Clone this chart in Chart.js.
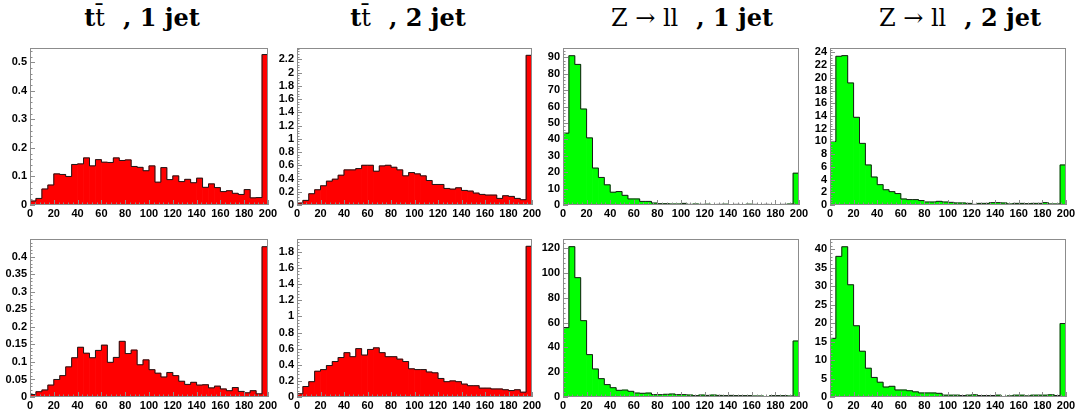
<!DOCTYPE html>
<html>
<head>
<meta charset="utf-8">
<script src="https://cdn.jsdelivr.net/npm/chart.js@4.4.0/dist/chart.umd.min.js"></script>
<style>
  body { margin: 0; background: #fff; width: 1078px; height: 410px; position: relative; overflow: hidden; }
  canvas { position: absolute; }
  .title { position: absolute; top: 6px; font-family: "DejaVu Serif", serif; font-size: 24px; line-height: 24px;
           white-space: pre; transform: translateX(-50%); color: #000; }
  .title b { font-weight: bold; }
  .title .gap { display: inline-block; width: 18px; }
</style>
</head>
<body>
<div class="title" style="left:142px"><b>t</b>t̄<span class="gap"></span><b>, 1 jet</b></div>
<div class="title" style="left:408px"><b>t</b>t̄<span class="gap"></span><b>, 2 jet</b></div>
<div class="title" style="left:692px">Z → ll<span class="gap"></span><b>, 1 jet</b></div>
<div class="title" style="left:960px">Z → ll<span class="gap"></span><b>, 2 jet</b></div>

<script>
// ─── Données ─────────────────────────────
// bords inférieurs des 40 bins (largeur 5)
const binLow = [0, 5, 10, 15, 20, 25, 30, 35, 40, 45, 50, 55, 60, 65, 70, 75, 80, 85, 90, 95,
  100, 105, 110, 115, 120, 125, 130, 135, 140, 145, 150, 155, 160, 165, 170, 175, 180, 185, 190, 195];
const binWidth = 5;
const xTicks = [0, 20, 40, 60, 80, 100, 120, 140, 160, 180, 200];

const tt1Top = [0.014, 0.023, 0.056, 0.070, 0.109, 0.107, 0.100, 0.142, 0.144, 0.165, 0.137, 0.159, 0.150, 0.149,
  0.165, 0.156, 0.158, 0.135, 0.132, 0.120, 0.137, 0.080, 0.131, 0.089, 0.102, 0.082, 0.090, 0.078, 0.094, 0.062,
  0.074, 0.061, 0.047, 0.050, 0.041, 0.037, 0.054, 0.025, 0.026, 0.527];
const tt2Top = [0.03, 0.07, 0.17, 0.23, 0.29, 0.36, 0.39, 0.45, 0.53, 0.53, 0.55, 0.60, 0.60, 0.51, 0.59, 0.60,
  0.57, 0.53, 0.44, 0.49, 0.47, 0.44, 0.37, 0.31, 0.31, 0.25, 0.24, 0.26, 0.22, 0.21, 0.18, 0.16, 0.15, 0.15,
  0.10, 0.14, 0.13, 0.10, 0.08, 2.26];
const zll1Top = [43.8, 91, 85.7, 58.5, 40.9, 22.5, 16.8, 12.3, 7.8, 8.2, 5.9, 3.7, 3.7, 2.2, 2.2, 1.2, 0.8, 0.8,
  0.6, 0.6, 1.0, 0.4, 0.6, 0.4, 0.5, 0.3, 0.4, 0.5, 0.3, 0.4, 0.3, 0.5, 0.4, 0.3, 0.4, 0.3, 0.3, 0.4, 0.6, 19.4];
const zll2Top = [10.0, 23.4, 23.5, 19.2, 13.8, 9.7, 6.3, 4.4, 3.2, 2.4, 2.1, 1.8, 0.95, 0.85, 0.85, 0.7, 0.47,
  0.47, 0.58, 0.47, 0.42, 0.32, 0.32, 0.26, 0.1, 0.26, 0.26, 0.37, 0.37, 0.32, 0.16, 0.26, 0.26, 0.21, 0.26,
  0.26, 0.37, 0.16, 0.16, 6.3];

const tt1Bot = [0.007, 0.015, 0.020, 0.034, 0.050, 0.061, 0.086, 0.112, 0.142, 0.125, 0.112, 0.133, 0.148, 0.099,
  0.113, 0.159, 0.124, 0.134, 0.092, 0.106, 0.078, 0.068, 0.057, 0.070, 0.061, 0.045, 0.036, 0.042, 0.034, 0.035,
  0.026, 0.031, 0.023, 0.018, 0.027, 0.016, 0.012, 0.018, 0.009, 0.429];
const tt2Bot = [0.04, 0.13, 0.19, 0.32, 0.34, 0.39, 0.44, 0.49, 0.55, 0.50, 0.60, 0.52, 0.59, 0.61, 0.55, 0.50,
  0.50, 0.47, 0.44, 0.35, 0.34, 0.34, 0.31, 0.30, 0.23, 0.19, 0.20, 0.19, 0.16, 0.14, 0.14, 0.11, 0.11, 0.10,
  0.10, 0.09, 0.08, 0.09, 0.06, 1.87];
const zll1Bot = [56, 121.3, 96.3, 61.6, 34.2, 22.6, 14.8, 10, 7.5, 5.4, 5.6, 4.6, 3.2, 3.0, 3.2, 1.9, 1.9, 2.2,
  2.4, 1.9, 1.9, 1.6, 1.1, 1.6, 1.3, 1.6, 1.3, 1.1, 1.3, 1.1, 1.1, 1.1, 0.8, 0.8, 0.3, 1.1, 1.1, 1.1, 0.8, 45.2];
const zll2Bot = [15.9, 38.1, 40.7, 30.4, 19.3, 12.4, 7.8, 5.3, 4.0, 2.7, 2.9, 1.9, 1.9, 1.7, 1.4, 1.1, 1.1, 1.1,
  1.0, 0.5, 0.5, 0.5, 0.4, 0.5, 0.6, 0.4, 0.4, 0.4, 0.5, 0, 0.3, 0.5, 0.5, 0.3, 0.5, 0.5, 0.5, 0.6, 0.4, 19.9];

// labels de l'axe y
const yTicksTt1Top  = [0, 0.1, 0.2, 0.3, 0.4, 0.5];
const yTicksTt2Top  = [0, 0.2, 0.4, 0.6, 0.8, 1, 1.2, 1.4, 1.6, 1.8, 2, 2.2];
const yTicksZll1Top = [0, 10, 20, 30, 40, 50, 60, 70, 80, 90];
const yTicksZll2Top = [0, 2, 4, 6, 8, 10, 12, 14, 16, 18, 20, 22, 24];
const yTicksTt1Bot  = [0, 0.05, 0.1, 0.15, 0.2, 0.25, 0.3, 0.35, 0.4];
const yTicksTt2Bot  = [0, 0.2, 0.4, 0.6, 0.8, 1, 1.2, 1.4, 1.6, 1.8];
const yTicksZll1Bot = [0, 20, 40, 60, 80, 100, 120];
const yTicksZll2Bot = [0, 5, 10, 15, 20, 25, 30, 35, 40];

// ─── Mise en page ────────────────────────
const cols = [{ l: 30, r: 268 }, { l: 297, r: 532 }, { l: 563, r: 799 }, { l: 830, r: 1066 }];
const rows = [{ t: 48, b: 205 }, { t: 239, b: 397 }];
const RED = '#ff0000', GREEN = '#00ff00';
const AXIS_W = 32, PAD_T = 8, PAD_R = 16, XAXIS_H = 20;

const panels = [
  { row: 0, col: 0, values: tt1Top,  yTicks: yTicksTt1Top,  yMax: 0.55, color: RED },
  { row: 0, col: 1, values: tt2Top,  yTicks: yTicksTt2Top,  yMax: 2.37, color: RED },
  { row: 0, col: 2, values: zll1Top, yTicks: yTicksZll1Top, yMax: 95.7, color: GREEN },
  { row: 0, col: 3, values: zll2Top, yTicks: yTicksZll2Top, yMax: 24.7, color: GREEN },
  { row: 1, col: 0, values: tt1Bot,  yTicks: yTicksTt1Bot,  yMax: 0.451, color: RED },
  { row: 1, col: 1, values: tt2Bot,  yTicks: yTicksTt2Bot,  yMax: 1.96, color: RED },
  { row: 1, col: 2, values: zll1Bot, yTicks: yTicksZll1Bot, yMax: 127.5, color: GREEN },
  { row: 1, col: 3, values: zll2Bot, yTicks: yTicksZll2Bot, yMax: 42.8, color: GREEN },
];

// ─── Cadre + graduations façon ROOT (vers l'intérieur) ─
const rootFrame = {
  id: 'rootFrame',
  afterDraw(chart) {
    const { ctx, chartArea: a, scales } = chart;
    ctx.save();
    ctx.strokeStyle = '#8c8c8c';
    ctx.lineWidth = 1;
    ctx.strokeRect(Math.round(a.left) + 0.5, Math.round(a.top) + 0.5,
      Math.round(a.right - a.left) - 1, Math.round(a.bottom - a.top) - 1);

    const drawTicks = (scale, vertical) => {
      const t = scale.ticks.map(k => k.value);
      const minor = (t[1] - t[0]) / 5;
      ctx.beginPath();
      for (let i = 0; t[0] + i * minor <= scale.max + 1e-9; i++) {
        const v = t[0] + i * minor;
        const len = i % 5 === 0 ? 5 : 2.5;
        const p = Math.round(scale.getPixelForValue(v)) + 0.5;
        if (vertical) { ctx.moveTo(a.left, p); ctx.lineTo(a.left + len, p); }
        else { ctx.moveTo(p, a.bottom); ctx.lineTo(p, a.bottom - len); }
      }
      ctx.stroke();
    };
    drawTicks(scales.y, true);
    drawTicks(scales.x, false);
    ctx.restore();
  }
};

const fmt = v => String(+v.toFixed(3));

panels.forEach(p => {
  const c = cols[p.col], r = rows[p.row];
  const canvas = document.createElement('canvas');
  const w = (c.r - c.l) + AXIS_W + PAD_R;
  const h = (r.b - r.t) + PAD_T + XAXIS_H;
  canvas.width = w; canvas.height = h;
  canvas.style.left = (c.l - AXIS_W) + 'px';
  canvas.style.top = (r.t - PAD_T) + 'px';
  canvas.style.width = w + 'px'; canvas.style.height = h + 'px';
  document.body.appendChild(canvas);

  const bars = p.values.map((v, i) => ({ x: binLow[i] + binWidth / 2, y: v }));
  const outline = [{ x: binLow[0], y: 0 }]
    .concat(p.values.map((v, i) => ({ x: binLow[i], y: v })))
    .concat([{ x: binLow[binLow.length - 1] + binWidth, y: 0 }]);

  new Chart(canvas, {
    type: 'bar',
    data: {
      datasets: [
        { type: 'line', data: outline, stepped: true, borderColor: '#1a1a1a', borderWidth: 1,
          pointRadius: 0, fill: false, order: 0 },
        { type: 'bar', data: bars, backgroundColor: p.color, borderWidth: 0,
          barPercentage: 1, categoryPercentage: 1, order: 1 }
      ]
    },
    options: {
      responsive: false,
      animation: false,
      layout: { padding: { left: 0, top: PAD_T, right: PAD_R, bottom: 0 } },
      plugins: { legend: { display: false }, tooltip: { enabled: false } },
      scales: {
        x: {
          type: 'linear', min: 0, max: 200, offset: false,
          grid: { display: false, drawTicks: false }, border: { display: false },
          afterBuildTicks: ax => { ax.ticks = xTicks.map(v => ({ value: v })); },
          afterFit: ax => { ax.height = XAXIS_H; ax.paddingLeft = 0; ax.paddingRight = 0; },
          ticks: { color: '#000', padding: 2, maxRotation: 0, autoSkip: false,
                   font: { family: '"Liberation Sans", Arial, sans-serif', size: 11, weight: 'bold' } }
        },
        y: {
          min: 0, max: p.yMax,
          grid: { display: false, drawTicks: false }, border: { display: false },
          afterBuildTicks: ax => { ax.ticks = p.yTicks.map(v => ({ value: v })); },
          afterFit: ax => { ax.width = AXIS_W; ax.paddingTop = 0; ax.paddingBottom = 0; },
          ticks: { color: '#000', padding: 3, autoSkip: false, callback: fmt,
                   font: { family: '"Liberation Sans", Arial, sans-serif', size: 11, weight: 'bold' } }
        }
      }
    },
    plugins: [rootFrame]
  });
});
</script>
</body>
</html>
